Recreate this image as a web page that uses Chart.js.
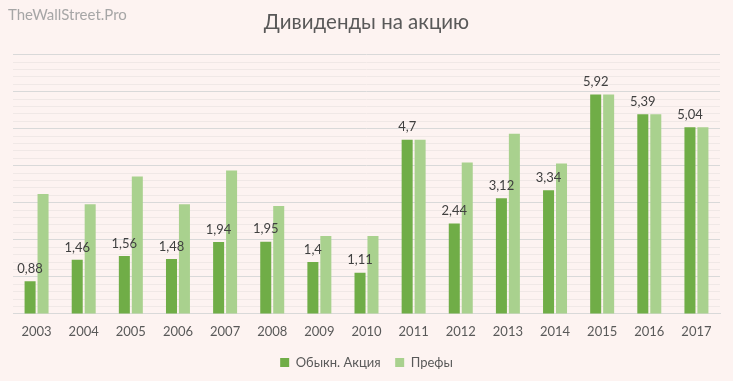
<!DOCTYPE html>
<html><head><meta charset="utf-8">
<script src="https://cdn.jsdelivr.net/npm/chart.js@4/dist/chart.umd.min.js"></script>
<style>html,body{margin:0;padding:0;background:#FDF3F1;}#wrap{width:733px;height:381px;}</style>
</head><body><div id="wrap"><canvas id="c" width="733" height="381"></canvas></div>
<script>
const years = ['2003','2004','2005','2006','2007','2008','2009','2010','2011','2012','2013','2014','2015','2016','2017'];
const common = [0.88,1.46,1.56,1.48,1.94,1.95,1.4,1.11,4.7,2.44,3.12,3.34,5.92,5.39,5.04];
const commonLabels = ['0,88','1,46','1,56','1,48','1,94','1,95','1,4','1,11','4,7','2,44','3,12','3,34','5,92','5,39','5,04'];
const prefs = [3.24,2.96,3.71,2.96,3.87,2.91,2.10,2.10,4.70,4.09,4.86,4.06,5.92,5.39,5.04];
const seriesNames = ['Обыкн. Акция','Префы'];
const FONT = 'Lato, "Open Sans", sans-serif';

const extras = {
  id:'extras',
  beforeDraw(chart){
    const ctx=chart.ctx;
    ctx.save();
    ctx.fillStyle='#FDF3F1';
    ctx.fillRect(0,0,chart.width,chart.height);
    ctx.fillStyle='#A6A6A6';
    ctx.font='15px '+FONT;
    ctx.textBaseline='middle';
    ctx.textAlign='left';
    ctx.fillText('TheWallStreet.Pro',8,15);
    ctx.restore();
  },
  afterDatasetsDraw(chart){
    const ctx=chart.ctx;
    const meta=chart.getDatasetMeta(0);
    ctx.save();
    ctx.fillStyle='#404040';
    ctx.font='13px '+FONT;
    ctx.textAlign='center';
    ctx.textBaseline='bottom';
    meta.data.forEach((bar,i)=>{
      ctx.fillText(commonLabels[i], bar.x, bar.y-6);
    });
    ctx.restore();
  }
};

new Chart(document.getElementById('c'),{
  type:'bar',
  data:{labels:years,datasets:[
    {label:seriesNames[0],data:common,backgroundColor:'#70AD47',categoryPercentage:0.55,barPercentage:0.85},
    {label:seriesNames[1],data:prefs,backgroundColor:'#A9D18E',categoryPercentage:0.55,barPercentage:0.85}
  ]},
  options:{
    responsive:false,animation:false,
    layout:{padding:{left:13,right:13,top:0,bottom:2}},
    plugins:{
      title:{display:true,text:'Дивиденды на акцию',color:'#595959',font:{family:FONT,size:20.5,weight:'normal'},padding:{top:10,bottom:20}},
      legend:{position:'bottom',labels:{color:'#595959',font:{family:FONT,size:13},boxWidth:9,boxHeight:9,padding:14.5}},
      tooltip:{enabled:false}
    },
    scales:{
      x:{grid:{display:false},border:{color:'#D9D9D9'},ticks:{color:'#595959',font:{family:FONT,size:13},padding:2}},
      y:{min:0,max:7,display:true,ticks:{display:false,stepSize:0.2},border:{display:false},
         grid:{drawTicks:false,color:(c)=>{const v=c.tick.value;return Math.abs(v-Math.round(v))<1e-6?'#D9D9D9':'#F0E8E6';},lineWidth:1}}
    }
  },
  plugins:[extras]
});
</script></body></html>
